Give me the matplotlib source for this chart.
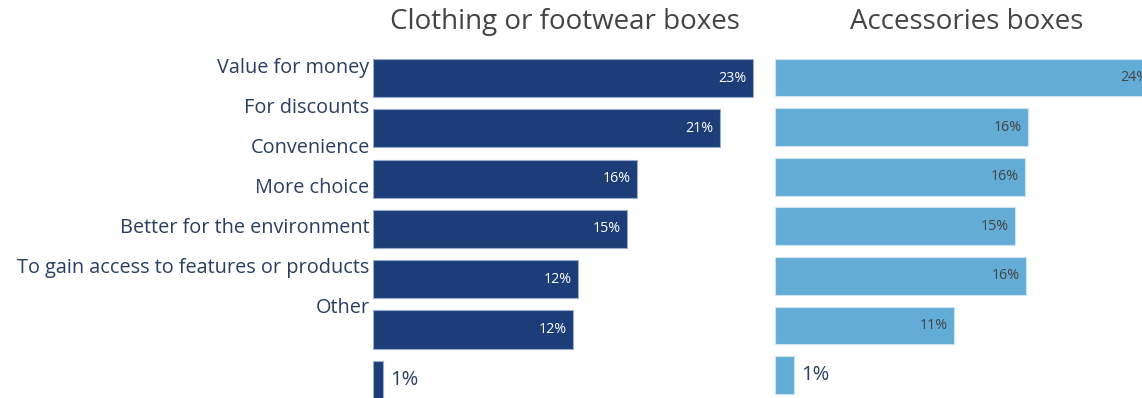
import numpy as np
import matplotlib.pyplot as plt

# Data
CATEGORIES = ['Value for money', 'For discounts', 'Convenience', 'More choice',
              'Better for the environment',
              'To gain access to features or products', 'Other']
CLOTHING = [23.0, 21.0, 16.0, 15.4, 12.4, 12.1, 0.6]
ACCESSORIES = [23.7, 15.8, 15.6, 15.0, 15.7, 11.2, 1.2]
TITLES = ['Clothing or footwear boxes', 'Accessories boxes']

W, H = 1142, 398
FONT = 'Open Sans'
plt.rcParams['font.family'] = [FONT, 'DejaVu Sans']


def px_rect(left, top, width, height):
    """Axes rectangle from pixel values measured from top-left."""
    return [left / W, (H - top - height) / H, width / W, height / H]


def draw_panel(ax, values, colour, edge, inside_colour, xmax, title):
    """Horizontal bars with percentage labels."""
    pos = np.arange(len(values))
    ax.barh(pos, values, height=0.76, color=colour, edgecolor=edge,
            linewidth=0.8)
    for y, v in zip(pos, values):
        text = '{:d}%'.format(int(round(v)))
        if v > 3:
            ax.annotate(text, (v, y), xytext=(-4.5, 0),
                        textcoords='offset points', ha='right', va='center',
                        color=inside_colour, fontsize=10.3,
                        annotation_clip=False)
        else:
            ax.annotate(text, (v, y), xytext=(5, 0),
                        textcoords='offset points', ha='left', va='center',
                        color='#2a3f5f', fontsize=14.5,
                        annotation_clip=False)
    ax.set_xlim(0, xmax)
    ax.set_ylim(len(values) - 0.5, -0.5)
    ax.axis('off')
    ax.set_title(title, fontsize=20, color='#444444', pad=17)


fig = plt.figure(figsize=(W / 100, H / 100), dpi=100)

ax_left = fig.add_axes(px_rect(373, 52.9, 384, 352.1))
draw_panel(ax_left, CLOTHING, '#1d3d79', '#9aaccb', 'white', 23.25,
           TITLES[0])

ax_right = fig.add_axes(px_rect(775, 52.7, 384, 347.2))
draw_panel(ax_right, ACCESSORIES, '#63acd6', '#cde5f3', '#444444', 24.0,
           TITLES[1])

# category labels sit on their own band to the left
ax_lab = fig.add_axes(px_rect(373, 45.2, 1, 280.7))
ax_lab.set_ylim(len(CATEGORIES) - 0.5, -0.5)
ax_lab.set_yticks(np.arange(len(CATEGORIES)))
ax_lab.set_yticklabels(CATEGORIES, fontsize=14.3, color='#2a3f5f')
ax_lab.tick_params(axis='y', length=0, pad=2.5)
ax_lab.set_xticks([])
for spine in ax_lab.spines.values():
    spine.set_visible(False)
ax_lab.patch.set_visible(False)

fig.savefig('out.png', dpi=100)
